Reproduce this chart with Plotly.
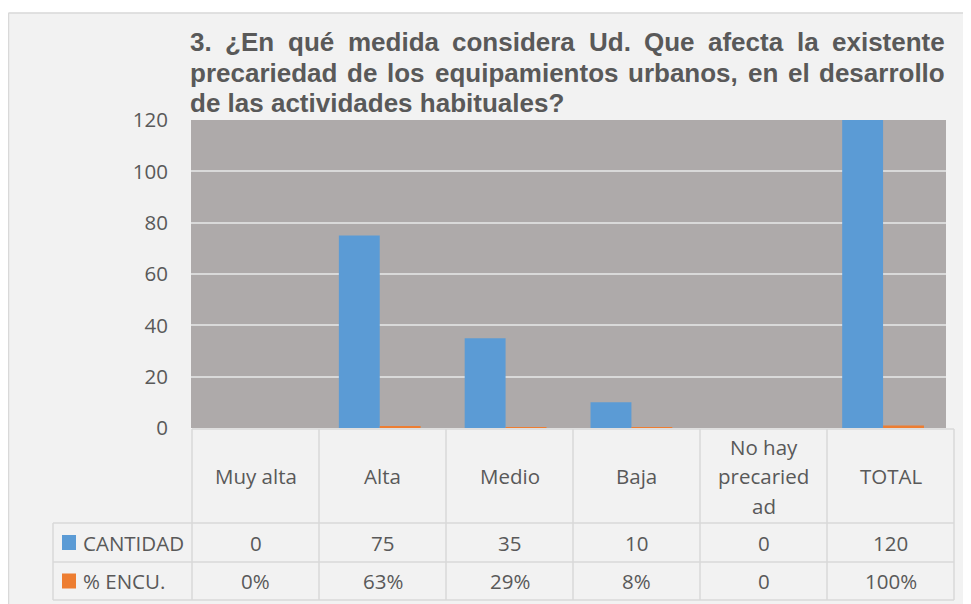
import plotly.graph_objects as go

# ---------------- data ----------------
categories = ["Muy alta", "Alta", "Medio", "Baja", "No hay precariedad", "TOTAL"]
header_lines = [["Muy alta"], ["Alta"], ["Medio"], ["Baja"], ["No hay", "precaried", "ad"], ["TOTAL"]]
cantidad = [0, 75, 35, 10, 0, 120]
porcentaje = [0.0, 0.63, 0.29, 0.08, 0.0, 1.00]
cantidad_labels = ["0", "75", "35", "10", "0", "120"]
porcentaje_labels = ["0%", "63%", "29%", "8%", "0", "100%"]
series_names = ["CANTIDAD", "% ENCU."]
y_ticks = [0, 20, 40, 60, 80, 100, 120]
title_lines = [
    "3. ¿En qué medida considera Ud. Que afecta la existente",
    "precariedad de los equipamientos urbanos, en el desarrollo",
    "de las actividades habituales?",
]

# ---------------- style / geometry (reference pixel coords) ----------------
PAGE_W, PAGE_H = 971, 604
OFF = 8  # page body margin: figure canvas starts at (8, 8)
W, H = PAGE_W - OFF, PAGE_H - OFF
PLOT_L, PLOT_R, PLOT_T, PLOT_B = 191, 946, 120, 428
ML, MR, MT, MB = PLOT_L - OFF, PAGE_W - PLOT_R, PLOT_T - OFF, PAGE_H - PLOT_B
PW = PLOT_R - PLOT_L
PH = PLOT_B - PLOT_T

BLUE = "#5b9bd5"
ORANGE = "#ed7d31"
TXT = "#595959"
GRID = "#d9d9d9"
BODY_FONT = "Open Sans"
TITLE_FONT = "Liberation Sans, Arial"


def px2x(px):
    return (px - PLOT_L) / PW


def py2y(py):
    return (PLOT_B - py) / PH


# Arial Bold advance widths (per 1000 em)
AW = {" ": 278, ".": 278, ",": 278, "?": 611, "¿": 611,
      "a": 556, "b": 611, "c": 556, "d": 611, "e": 556, "f": 333, "g": 611, "h": 611,
      "i": 278, "j": 278, "k": 556, "l": 278, "m": 889, "n": 611, "o": 611, "p": 611,
      "q": 611, "r": 389, "s": 556, "t": 333, "u": 611, "v": 556, "w": 778, "x": 556,
      "y": 556, "z": 500, "é": 556, "E": 667, "U": 722, "Q": 778}


def tw(s, size):
    return sum(AW.get(c, 556) for c in s) / 1000 * size


fig = go.Figure()
fig.add_trace(go.Bar(x=categories, y=cantidad, name=series_names[0],
                     marker=dict(color=BLUE, line=dict(width=0))))
fig.add_trace(go.Bar(x=categories, y=porcentaje, name=series_names[1],
                     marker=dict(color=ORANGE, line=dict(width=0))))

shapes = []
annotations = []

# white strip above chart border + border lines
shapes.append(dict(type="rect", xref="paper", yref="paper", x0=px2x(0), x1=px2x(PAGE_W + 10),
                   y0=py2y(0), y1=py2y(12.5), fillcolor="white", line=dict(width=0), layer="below"))
shapes.append(dict(type="line", xref="paper", yref="paper", x0=px2x(8.5), x1=px2x(PAGE_W + 10),
                   y0=py2y(13), y1=py2y(13), line=dict(color=GRID, width=1.5)))
shapes.append(dict(type="line", xref="paper", yref="paper", x0=px2x(8.5), x1=px2x(8.5),
                   y0=py2y(13), y1=py2y(PAGE_H + 10), line=dict(color=GRID, width=1.5)))

# ---------------- title (justified) ----------------
TS = 26
T_LEFT, T_RIGHT = 188, 943
baselines = [51, 82, 112]
for li, line in enumerate(title_lines):
    yc = py2y(baselines[li] - 0.34 * TS)
    words = line.split(" ")
    if li < len(title_lines) - 1:
        widths = [tw(w_, TS) for w_ in words]
        gap = (T_RIGHT - T_LEFT - sum(widths)) / (len(words) - 1)
        xpos = T_LEFT
        for wi, w_ in enumerate(words):
            annotations.append(dict(text=w_, xref="paper", yref="paper", x=px2x(xpos), y=yc,
                                    xanchor="left", yanchor="middle", showarrow=False,
                                    font=dict(family=TITLE_FONT, size=TS, color=TXT, weight="bold")))
            xpos += widths[wi] + gap
    else:
        annotations.append(dict(text=line, xref="paper", yref="paper", x=px2x(T_LEFT), y=yc,
                                xanchor="left", yanchor="middle", showarrow=False,
                                font=dict(family=TITLE_FONT, size=TS, color=TXT, weight="bold")))

# ---------------- data table ----------------
TX0, CW = 192, 127
NC = len(categories)
TX1 = TX0 + CW * NC
LX = 53
ROWS = [429, 523, 562, 600]
LC = dict(color="#d9d9d9", width=1.5)

shapes.append(dict(type="line", xref="paper", yref="paper", x0=px2x(TX0), x1=px2x(TX1),
                   y0=py2y(ROWS[0]), y1=py2y(ROWS[0]), line=LC))
for ry in ROWS[1:]:
    shapes.append(dict(type="line", xref="paper", yref="paper", x0=px2x(LX), x1=px2x(TX1),
                       y0=py2y(ry), y1=py2y(ry), line=LC))
for k in range(NC + 1):
    xx = TX0 + CW * k
    shapes.append(dict(type="line", xref="paper", yref="paper", x0=px2x(xx), x1=px2x(xx),
                       y0=py2y(ROWS[0]), y1=py2y(ROWS[3]), line=LC))
shapes.append(dict(type="line", xref="paper", yref="paper", x0=px2x(LX), x1=px2x(LX),
                   y0=py2y(ROWS[1]), y1=py2y(ROWS[3]), line=LC))

BF = dict(family=BODY_FONT, size=20.5, color=TXT)
hc = (ROWS[0] + ROWS[1]) / 2
for k, lines in enumerate(header_lines):
    cx = TX0 + CW * (k + 0.5)
    n = len(lines)
    for i, t in enumerate(lines):
        yy = hc + (i - (n - 1) / 2) * 29.5
        annotations.append(dict(text=t, xref="paper", yref="paper", x=px2x(cx), y=py2y(yy),
                                xanchor="center", yanchor="middle", showarrow=False, font=BF))

row_vals = [cantidad_labels, porcentaje_labels]
row_colors = [BLUE, ORANGE]
for r in range(2):
    rc = (ROWS[r + 1] + ROWS[r + 2]) / 2
    for k in range(NC):
        cx = TX0 + CW * (k + 0.5)
        annotations.append(dict(text=row_vals[r][k], xref="paper", yref="paper", x=px2x(cx), y=py2y(rc),
                                xanchor="center", yanchor="middle", showarrow=False, font=BF))
    shapes.append(dict(type="rect", xref="paper", yref="paper", x0=px2x(62), x1=px2x(76),
                       y0=py2y(rc - 7.5), y1=py2y(rc + 7.5), fillcolor=row_colors[r], line=dict(width=0)))
    annotations.append(dict(text=series_names[r], xref="paper", yref="paper", x=px2x(81), y=py2y(rc),
                            xanchor="left", yanchor="middle", showarrow=False, font=BF))

fig.update_layout(
    width=W, height=H,
    margin=dict(l=ML, r=MR, t=MT, b=MB, pad=0),
    paper_bgcolor="#f2f2f2",
    plot_bgcolor="#aeaaaa",
    barmode="group",
    bargap=0.35,
    bargroupgap=0,
    showlegend=False,
    hovermode=False,
    shapes=shapes,
    annotations=annotations,
    xaxis=dict(showticklabels=False, showgrid=False, zeroline=False, showline=False, ticks="",
               fixedrange=True),
    yaxis=dict(range=[0, 120], tickvals=y_ticks, showgrid=True, gridcolor=GRID, gridwidth=2,
               zeroline=False, showline=False, ticks="", ticklabelstandoff=22,
               tickfont=dict(family=BODY_FONT, size=20.5, color=TXT), fixedrange=True),
)

fig.write_html("out.html")
